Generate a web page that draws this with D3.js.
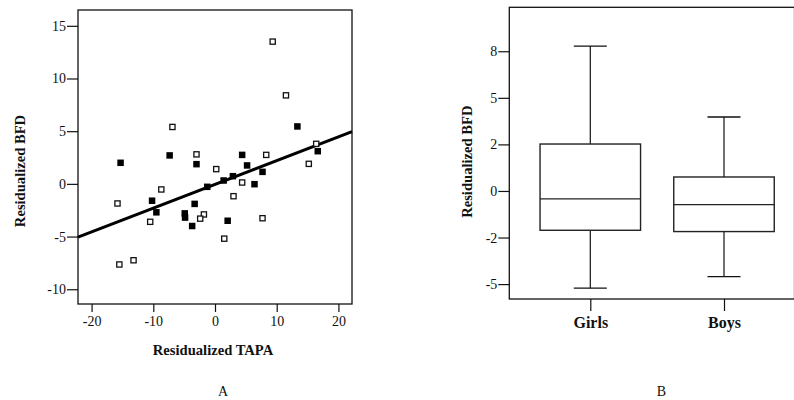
<!DOCTYPE html>
<html>
<head>
<meta charset="utf-8">
<script src="https://cdn.jsdelivr.net/npm/d3@7"></script>
<style>
  body { margin: 0; background: #fff; }
  svg { display: block; }
  text { font-family: "Liberation Serif", "Times New Roman", serif; fill: #111; }
</style>
</head>
<body>
<svg id="chart" width="794" height="400"></svg>
<script>
// panel A: residualized TAPA vs BFD, two groups of points
const hollowPts = [
    [9.35, 13.5], [11.5, 8.4], [-6.9, 5.4], [-3.0, 2.8], [0.2, 1.4],
    [8.3, 2.75], [16.4, 3.8], [15.2, 1.9], [4.4, 0.13], [-8.7, -0.53],
    [-15.8, -1.86], [3.0, -1.17], [-1.8, -2.9], [-2.4, -3.3], [-10.5, -3.6],
    [7.7, -3.26], [1.5, -5.2], [-13.2, -7.25], [-15.5, -7.65]
];
const filledPts = [
    [-15.3, 2.0], [-7.35, 2.7], [-3.0, 1.87], [4.4, 2.75], [5.2, 1.75],
    [13.35, 5.45], [16.65, 3.1], [7.7, 1.14], [6.4, -0.03], [2.9, 0.73],
    [1.4, 0.32], [-1.25, -0.28], [-10.2, -1.6], [-9.5, -2.7], [-3.3, -1.9],
    [-4.9, -2.8], [-4.85, -3.2], [-3.7, -4.0], [2.05, -3.5]
];
const fitEnds = [[-22.2, -5.05], [22.2, 4.95]];
const xTicksA = [-20, -10, 0, 10, 20];
const yTicksA = [-10, -5, 0, 5, 10, 15];

// panel B: box plots
const groups = ['Girls', 'Boys'];
const whiskerLow = [-5.22, -4.6];
const q1 = [-2.11, -2.18];
const median = [-0.43, -0.73];
const q3 = [2.52, 0.75];
const whiskerHigh = [7.78, 3.97];
const yTicksB = [-5, -2.5, 0, 2.5, 5, 7.5];
const yTickLabelsB = ['-5', '-2', '0', '2', '5', '8'];

const svg = d3.select('#chart');
const ink = '#111';
const plain = (d) => String(d); // hyphen minus, like the original

// ---------- panel A ----------
const ax = { left: 78, right: 352, top: 10, bottom: 304 };
const x = d3.scaleLinear().domain([-22.2, 22.2]).range([ax.left, ax.right]);
const y = d3.scaleLinear().domain([-11.4, 16.5]).range([ax.bottom, ax.top]);

const gA = svg.append('g');

gA.append('rect')
    .attr('x', ax.left).attr('y', ax.top)
    .attr('width', ax.right - ax.left).attr('height', ax.bottom - ax.top)
    .attr('fill', 'none').attr('stroke', ink).attr('stroke-width', 1.3);

const xAxisA = gA.append('g')
    .attr('transform', 'translate(0,' + ax.bottom + ')')
    .call(d3.axisBottom(x).tickValues(xTicksA).tickFormat(plain)
        .tickSize(8).tickPadding(4).tickSizeOuter(0));
const yAxisA = gA.append('g')
    .attr('transform', 'translate(' + ax.left + ',0)')
    .call(d3.axisLeft(y).tickValues(yTicksA).tickFormat(plain)
        .tickSize(11).tickPadding(1).tickSizeOuter(0));

[xAxisA, yAxisA].forEach((a) => {
    a.select('.domain').remove();
    a.selectAll('line').attr('stroke', ink).attr('stroke-width', 1.2);
    a.selectAll('text').style('font-family', '"Liberation Serif", serif').style('font-size', '14px').attr('fill', ink);
});

// regression line
gA.append('line')
    .attr('x1', x(fitEnds[0][0])).attr('y1', y(fitEnds[0][1]))
    .attr('x2', x(fitEnds[1][0])).attr('y2', y(fitEnds[1][1]))
    .attr('stroke', '#000').attr('stroke-width', 3);

const sq = 6.5;
gA.selectAll('rect.hollow')
    .data(hollowPts)
    .enter()
    .append('rect')
    .attr('class', 'hollow')
    .attr('x', (d) => x(d[0]) - sq / 2 + 0.65)
    .attr('y', (d) => y(d[1]) - sq / 2 + 0.65)
    .attr('width', sq - 1.3).attr('height', sq - 1.3)
    .attr('fill', '#fff').attr('stroke', ink).attr('stroke-width', 1.3);

gA.selectAll('rect.filled')
    .data(filledPts)
    .enter()
    .append('rect')
    .attr('class', 'filled')
    .attr('x', (d) => x(d[0]) - sq / 2)
    .attr('y', (d) => y(d[1]) - sq / 2)
    .attr('width', sq).attr('height', sq)
    .attr('fill', '#000');

// axis titles
gA.append('text')
    .attr('text-anchor', 'middle')
    .attr('x', 213).attr('y', 355)
    .style('font-size', '14.6px').style('font-weight', 'bold')
    .text('Residualized TAPA');
gA.append('text')
    .attr('transform', 'rotate(-90)')
    .attr('x', -171).attr('y', 25)
    .attr('text-anchor', 'middle')
    .style('font-size', '14.6px').style('font-weight', 'bold')
    .text('Residualized BFD');
gA.append('text')
    .attr('text-anchor', 'middle')
    .attr('x', 223).attr('y', 396)
    .style('font-size', '14px')
    .text('A');

// ---------- panel B ----------
const bx = { left: 509.3, right: 794.5, top: 7.3, bottom: 299 };
const xb = d3.scalePoint().domain(groups).range([590.3, 724]);
const yb = d3.scaleLinear().domain([-5.8, 9.86]).range([bx.bottom, bx.top]);
const boxW = 100.5;
const capW = 33;

const gB = svg.append('g');

gB.append('rect')
    .attr('x', bx.left).attr('y', bx.top)
    .attr('width', bx.right - bx.left).attr('height', bx.bottom - bx.top)
    .attr('fill', 'none').attr('stroke', ink).attr('stroke-width', 1.3);

const xAxisB = gB.append('g')
    .attr('transform', 'translate(0,' + bx.bottom + ')')
    .call(d3.axisBottom(xb).tickSize(12).tickPadding(6).tickSizeOuter(0));
const yAxisB = gB.append('g')
    .attr('transform', 'translate(' + bx.left + ',0)')
    .call(d3.axisLeft(yb).tickValues(yTicksB)
        .tickFormat((d, i) => yTickLabelsB[i])
        .tickSize(11).tickPadding(1).tickSizeOuter(0));

[xAxisB, yAxisB].forEach((a) => {
    a.select('.domain').remove();
    a.selectAll('line').attr('stroke', ink).attr('stroke-width', 1.2);
    a.selectAll('text').style('font-family', '"Liberation Serif", serif').attr('fill', ink);
});
yAxisB.selectAll('text').style('font-size', '14px');
xAxisB.selectAll('text').style('font-size', '16px').style('font-weight', 'bold');

const boxes = gB.selectAll('g.box')
    .data(groups)
    .enter()
    .append('g')
    .attr('class', 'box');

// whiskers
boxes.append('line')
    .attr('x1', (d) => xb(d)).attr('x2', (d) => xb(d))
    .attr('y1', (d, i) => yb(whiskerHigh[i])).attr('y2', (d, i) => yb(whiskerLow[i]))
    .attr('stroke', ink).attr('stroke-width', 1.2);
boxes.append('line')
    .attr('x1', (d) => xb(d) - capW / 2).attr('x2', (d) => xb(d) + capW / 2)
    .attr('y1', (d, i) => yb(whiskerHigh[i])).attr('y2', (d, i) => yb(whiskerHigh[i]))
    .attr('stroke', ink).attr('stroke-width', 1.3);
boxes.append('line')
    .attr('x1', (d) => xb(d) - capW / 2).attr('x2', (d) => xb(d) + capW / 2)
    .attr('y1', (d, i) => yb(whiskerLow[i])).attr('y2', (d, i) => yb(whiskerLow[i]))
    .attr('stroke', ink).attr('stroke-width', 1.3);

// box and median
boxes.append('rect')
    .attr('x', (d) => xb(d) - boxW / 2)
    .attr('y', (d, i) => yb(q3[i]))
    .attr('width', boxW)
    .attr('height', (d, i) => yb(q1[i]) - yb(q3[i]))
    .attr('fill', '#fff').attr('stroke', '#222').attr('stroke-width', 1.4);
boxes.append('line')
    .attr('x1', (d) => xb(d) - boxW / 2).attr('x2', (d) => xb(d) + boxW / 2)
    .attr('y1', (d, i) => yb(median[i])).attr('y2', (d, i) => yb(median[i]))
    .attr('stroke', '#222').attr('stroke-width', 1.2);

gB.append('text')
    .attr('transform', 'rotate(-90)')
    .attr('x', -161.7).attr('y', 472)
    .attr('text-anchor', 'middle')
    .style('font-size', '14.6px').style('font-weight', 'bold')
    .text('Residualized BFD');
gB.append('text')
    .attr('text-anchor', 'middle')
    .attr('x', 661.5).attr('y', 396)
    .style('font-size', '14px')
    .text('B');
</script>
</body>
</html>
